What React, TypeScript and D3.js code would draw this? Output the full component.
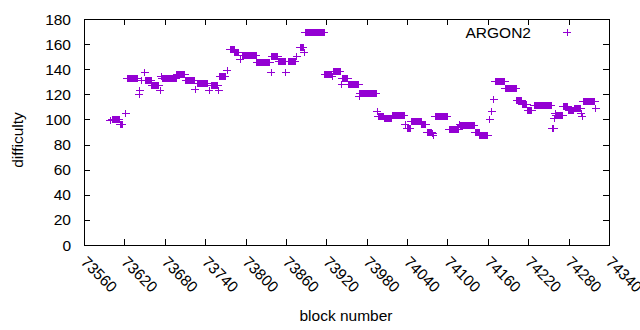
import React from "react";
import * as d3 from "d3";

// Difficulty read as runs of consecutive blocks with the same value
const runStart = [73599,73602,73614,73622,73624,73642,73643,73646,73650,73652,73661,73673,73675,73676,73698,73711,73725,73729,73746,73749,73760,73762,73773,73777,73784,73792,73795,73817,73838,73839,73849,73860,73864,73876,73881,73887,73889,73918,73929,73930,73943,73944,73953,73969,73970,73971,73996,73997,74006,74018,74037,74040,74046,74062,74070,74078,74079,74082,74103,74118,74120,74141,74148,74163,74166,74169,74171,74186,74203,74211,74219,74229,74256,74259,74260,74261,74272,74280,74288,74299,74300,74302,74320];
const runEnd = [73599,73612,73617,73622,73640,73642,73643,73646,73650,73660,73671,73673,73675,73697,73710,73724,73725,73743,73746,73759,73760,73770,73773,73783,73789,73792,73816,73836,73838,73848,73859,73860,73874,73876,73886,73887,73917,73928,73929,73941,73943,73952,73968,73969,73970,73994,73996,74005,74017,74036,74037,74045,74061,74068,74077,74078,74079,74100,74117,74118,74140,74147,74160,74163,74166,74169,74185,74202,74210,74218,74225,74254,74258,74259,74260,74271,74279,74287,74298,74299,74300,74319,74320];
const runValue = [99,100,96,105,133,120,123,131,137,131,127,123,134,133,136,131,124,129,123,127,123,134,139,156,153,148,151,145,137,150,146,137,146,150,157,153,169,136,134,138,128,133,128,118,121,121,106,102,101,103,96,93,98,96,90,89,87,102,92,96,95,90,87,100,106,116,130,125,115,112,107,111,93,101,105,103,110,107,109,105,102,114,109];

const xTicks = [73560,73620,73680,73740,73800,73860,73920,73980,74040,74100,74160,74220,74280,74340];
const yTicks = [0,20,40,60,80,100,120,140,160,180];
const seriesName = "ARGON2";
const xLabel = "block number";
const yLabel = "difficulty";

const points: { b: number; v: number }[] = [];
runStart.forEach((s, i) => {
  for (let b = s; b <= runEnd[i]; b++) points.push({ b, v: runValue[i] });
});

const W = 640, H = 330;
const L = 84, R = 609, T = 19, B = 245;
const COLOR = "#9400d3";
const FONT = "'Liberation Sans', Arial, sans-serif";
const FS = 15.5;

export default function App() {
  const x = d3.scaleLinear().domain([73560, 74340]).range([L, R]);
  const y = d3.scaleLinear().domain([0, 180]).range([B, T]);
  const plus = (cx: number, cy: number) => `M${cx - 4},${cy}H${cx + 4}M${cx},${cy - 3.5}V${cy + 3.5}`;
  const markerPath = points.map(p => plus(x(p.b), y(p.v))).join("");
  const tl = 6;
  return (
    <svg width={W} height={H} style={{ position: "fixed", left: 0, top: 0, background: "#fff" }} fontFamily={FONT} fontSize={FS}>
      <rect x={0} y={0} width={W} height={H} fill="#fff" />
      {yTicks.map(t => (
        <g key={"y" + t}>
          <line x1={L} x2={L + tl} y1={Math.round(y(t)) + 0.5} y2={Math.round(y(t)) + 0.5} stroke="#000" />
          <line x1={R} x2={R - tl} y1={Math.round(y(t)) + 0.5} y2={Math.round(y(t)) + 0.5} stroke="#000" />
          <text x={71} y={y(t)} textAnchor="end" dominantBaseline="central">{t}</text>
        </g>
      ))}
      {xTicks.map(t => (
        <g key={"x" + t}>
          <line x1={Math.round(x(t)) + 0.5} x2={Math.round(x(t)) + 0.5} y1={B} y2={B - tl} stroke="#000" />
          <line x1={Math.round(x(t)) + 0.5} x2={Math.round(x(t)) + 0.5} y1={T} y2={T + tl} stroke="#000" />
          <text x={0} y={0} transform={`translate(${x(t)},259) rotate(45)`} textAnchor="start" dominantBaseline="central">{t}</text>
        </g>
      ))}
      <rect x={L + 0.5} y={T + 0.5} width={R - L} height={B - T} fill="none" stroke="#000" />
      <path d={markerPath} stroke={COLOR} strokeWidth={1} fill="none" shapeRendering="crispEdges" />
      <text x={531} y={32} textAnchor="end" dominantBaseline="central">{seriesName}</text>
      <path d={plus(567, 32)} stroke={COLOR} strokeWidth={1} fill="none" shapeRendering="crispEdges" />
      <text x={346} y={315} textAnchor="middle" dominantBaseline="central">{xLabel}</text>
      <text x={0} y={0} transform={`translate(17,140) rotate(-90)`} textAnchor="middle" dominantBaseline="central">{yLabel}</text>
    </svg>
  );
}
